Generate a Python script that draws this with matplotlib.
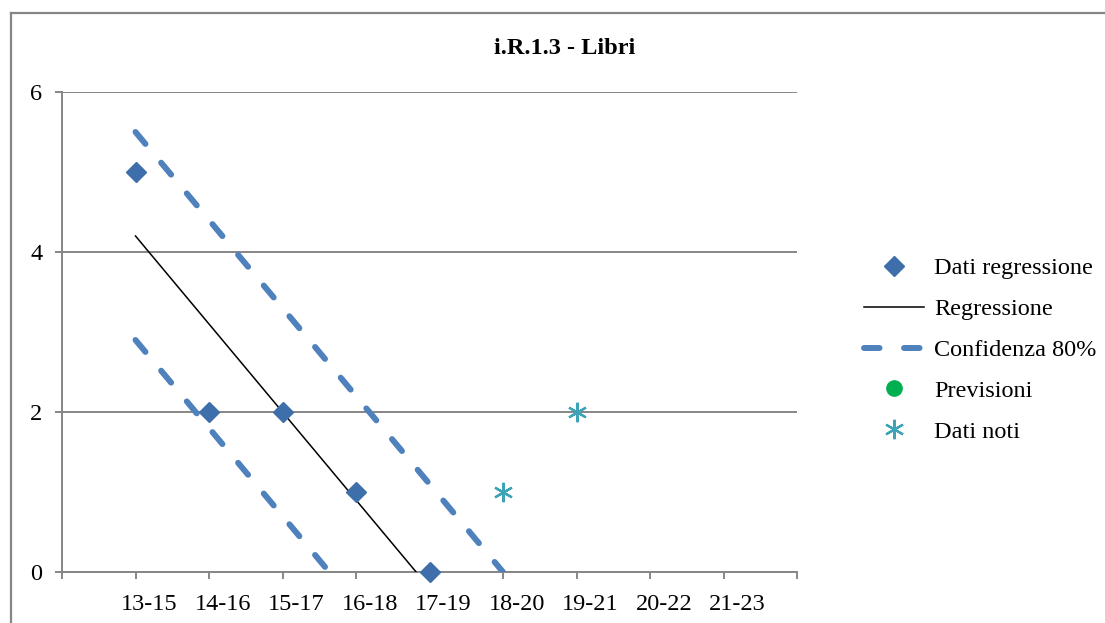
import numpy as np
import matplotlib
matplotlib.use("Agg")
from matplotlib import pyplot as plt
from matplotlib.lines import Line2D

categories = ["13-15", "14-16", "15-17", "16-18", "17-19", "18-20", "19-21", "20-22", "21-23"]
dati_regressione = [5, 2, 2, 1, 0]
regressione = [4.2, 3.1, 2.0, 0.9, -0.2]
conf_sup = [5.5, 4.4, 3.3, 2.2, 1.1, 0.0]
conf_inf = [2.9, 1.8, 0.7, -0.4]
noti_idx = [5, 6]
dati_noti = [1, 2]

GRAY = "#868686"
plt.rcParams['font.family'] = ['Liberation Serif', 'DejaVu Serif']

fig = plt.figure(figsize=(11.05, 6.23), dpi=100)
ax = fig.add_axes([62 / 1105, (623 - 572) / 623, (797 - 62) / 1105, 480 / 623])

x = np.arange(1, len(categories) + 1)

ax.plot(x[:len(dati_regressione)], dati_regressione, linestyle='none', marker='D',
        ms=10, color='#3F6FAA', label='Dati regressione', clip_on=False, zorder=5)
ax.plot(x[:len(regressione)], regressione, color='black', lw=1.1, label='Regressione', zorder=4)
ax.plot(x[:len(conf_sup)], conf_sup, color='#4F81BD', lw=4.3, dashes=(2.6, 4.1),
        dash_capstyle='round', label='Confidenza 80%', zorder=3)
ax.plot(x[:len(conf_inf)], conf_inf, color='#4F81BD', lw=4.3, dashes=(2.6, 4.1),
        dash_capstyle='round', zorder=3)
ax.plot([], [], linestyle='none', marker='o', ms=11, color='#00B050', label='Previsioni')
ax.plot(x[noti_idx], dati_noti, linestyle='none', marker=(6, 2, 0), ms=14, mew=1.6,
        color='#3FA3B8', label='Dati noti', clip_on=False, zorder=5)

ax.set_xlim(0, 10)
ax.set_ylim(0, 6)
ax.set_yticks([0, 2, 4, 6])
# ticks at every category boundary, labels sit slightly right of the tick
ax.set_xticks(range(0, 11))
ax.set_xticklabels([])
ax.set_xticks(x + 0.19, minor=True)
ax.set_xticklabels(categories, minor=True)
ax.tick_params(axis='x', which='minor', length=0, labelsize=17.5, pad=16)

ax.yaxis.grid(True, color=GRAY, lw=1.4)
ax.set_axisbelow(True)
for s in ['top', 'right']:
    ax.spines[s].set_visible(False)
for s in ['left', 'bottom']:
    ax.spines[s].set_color(GRAY)
    ax.spines[s].set_linewidth(1.4)
ax.tick_params(axis='both', which='major', colors=GRAY, labelcolor='black', labelsize=17.5,
               length=5, width=1.4, pad=9)

fig.text(565 / 1105, 1 - 48 / 623, "i.R.1.3 - Libri", ha='center', va='center',
         fontsize=17.5, fontweight='bold')

ax.legend(loc='center left', bbox_to_anchor=(854 / 1105, 1 - 350 / 623),
          bbox_transform=fig.transFigure, frameon=False, fontsize=17.5,
          handlelength=2.5, handletextpad=0.4, labelspacing=0.78, borderaxespad=0)

# outer chart frame
fig.add_artist(Line2D([11 / 1105, 1.0], [1 - 13 / 623, 1 - 13 / 623], color=GRAY, lw=1.6))
fig.add_artist(Line2D([11 / 1105, 11 / 1105], [0.0, 1 - 13 / 623], color=GRAY, lw=1.6))

plt.savefig("out.png", dpi=100)
